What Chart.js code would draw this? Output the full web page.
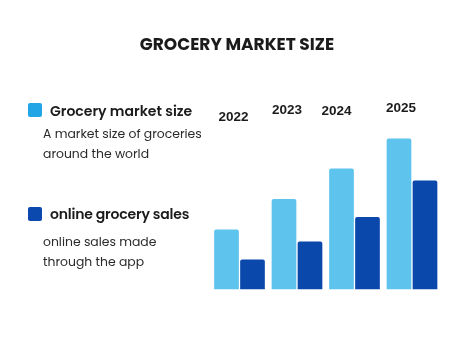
<!DOCTYPE html>
<html>
<head>
<meta charset="utf-8">
<script src="https://cdn.jsdelivr.net/npm/chart.js@4.4.1/dist/chart.umd.min.js"></script>
<style>
  html, body { margin: 0; padding: 0; background: #fff; }
  #wrap { position: relative; width: 474px; height: 355px; overflow: hidden; font-family: "Poppins", "Inter", "Open Sans", sans-serif; }
  canvas { position: absolute; left: 0; top: 0; }
  .t { position: absolute; white-space: nowrap; color: #1b1b1b; }
  #title { left: 0; width: 474px; text-align: center; top: 33px; font-size: 17px; font-weight: 700; line-height: 22px; }
  .sw { position: absolute; width: 14px; height: 14px; border-radius: 2px; }
  .lh { font-size: 14px; font-weight: 600; line-height: 20px; }
  .ls { font-size: 12.4px; font-weight: 400; line-height: 19.5px; color: #2a2a2a; }
</style>
</head>
<body>
<div id="wrap">
  <canvas id="c" width="474" height="355"></canvas>
  <div id="title" class="t">GROCERY MARKET SIZE</div>
  <div class="sw" style="left:28px;top:103px;background:#22a5e6"></div>
  <div class="t lh" style="left:50px;top:101px">Grocery market size</div>
  <div class="t ls" style="left:43px;top:124px">A market size of groceries<br>around the world</div>
  <div class="sw" style="left:28px;top:207px;background:#0b49ae"></div>
  <div class="t lh" style="left:50px;top:204px;letter-spacing:-0.2px">online grocery sales</div>
  <div class="t ls" style="left:43px;top:232px">online sales made<br>through the app</div>
</div>
<script>
const categories = ["2022", "2023", "2024", "2025"];
const groceryMarketSize = [60, 90.5, 121, 151];
const onlineGrocerySales = [30, 48, 72.5, 109];
const yMax = 160;

const yearLabels = {
  id: 'yearLabels',
  afterDatasetsDraw(chart) {
    const ctx = chart.ctx;
    const meta = chart.getDatasetMeta(0);
    const yNudge = [117, 110.5, 111, 108];
    const xNudge = [7, 3, -5, 2];
    ctx.save();
    ctx.font = 'bold 13.5px "Liberation Sans", Arial, sans-serif';
    ctx.fillStyle = '#1b1b1b';
    ctx.textAlign = 'center';
    ctx.textBaseline = 'middle';
    categories.forEach((lab, i) => {
      const el = meta.data[i];
      ctx.fillText(lab, el.x + xNudge[i], yNudge[i]);
    });
    ctx.restore();
  }
};

new Chart(document.getElementById('c'), {
  type: 'bar',
  data: {
    labels: categories,
    datasets: [
      { label: 'Grocery market size', data: groceryMarketSize, backgroundColor: '#5ec3ed', borderRadius: 2, borderSkipped: 'bottom' },
      { label: 'online grocery sales', data: onlineGrocerySales, backgroundColor: '#0a48ab', borderRadius: 2, borderSkipped: 'bottom' }
    ]
  },
  options: {
    responsive: false,
    animation: false,
    devicePixelRatio: 1,
    layout: { padding: { left: 210.75, right: 33.25, top: 129.5, bottom: 65.5 } },
    datasets: { bar: { categoryPercentage: 0.904, barPercentage: 0.95 } },
    plugins: { legend: { display: false }, tooltip: { enabled: false }, title: { display: false } },
    scales: {
      x: { display: false },
      y: { display: false, min: 0, max: yMax }
    }
  },
  plugins: [yearLabels]
});
</script>
</body>
</html>
